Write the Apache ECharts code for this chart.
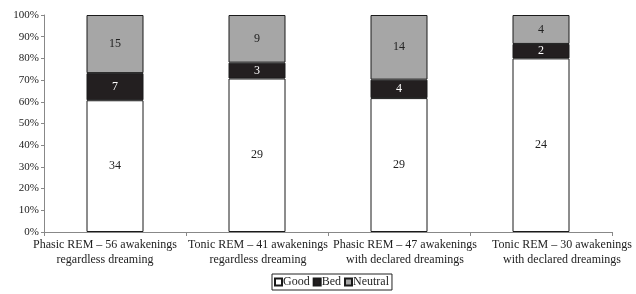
<!DOCTYPE html>
<html><head><meta charset="utf-8">
<script src="https://cdn.jsdelivr.net/npm/echarts@6/dist/echarts.min.js"></script>
<style>html,body{margin:0;padding:0;background:#fff}#c{width:636px;height:294px}</style>
</head><body><div id="c"></div>
<script>
var categories = ['Phasic REM – 56 awakenings\nregardless dreaming','Tonic REM – 41 awakenings\nregardless dreaming','Phasic REM – 47 awakenings\nwith declared dreamings','Tonic REM – 30 awakenings\nwith declared dreamings'];
var good = [34, 29, 29, 24];
var bed = [7, 3, 4, 2];
var neutral = [15, 9, 14, 4];
var yTicks = [0,10,20,30,40,50,60,70,80,90,100];

var totals = good.map(function(v,i){return v+bed[i]+neutral[i];});
function pct(arr){return arr.map(function(v,i){return {value: v/totals[i]*100, count: v};});}
var FONT = 'Liberation Serif';
function mk(name, arr, color, lc){
  return {name:name, type:'bar', stack:'s', barWidth:57, data:pct(arr),
    itemStyle:{color:color, borderColor:'#1a1a1a', borderWidth:1},
    label:{show:true, position:'inside', color:lc, fontFamily:FONT, fontSize:12,
      formatter:function(p){return p.data.count;}}};
}
var shiftPad = [[0,20,0,0],[0,0,0,2],[0,0,0,12],[0,0,0,42]];
var rich = {};
shiftPad.forEach(function(p,i){ rich['l'+i] = {padding:p, fontFamily:FONT, fontSize:12, color:'#222', lineHeight:15}; });
var chart = echarts.init(document.getElementById('c'));
chart.setOption({
  animation:false,
  textStyle:{fontFamily:FONT},
  grid:{left:44, right:24, top:15, bottom:62},
  legend:{top:274, left:272, itemWidth:7, itemHeight:7, itemGap:3,
    borderColor:'#222', borderWidth:1, padding:[2,3,2,2], borderRadius:0,
    textStyle:{fontFamily:FONT, fontSize:12, color:'#222', padding:[0,0,0,-4]},
    data:[{name:'Good',icon:'rect'},{name:'Bed',icon:'rect'},{name:'Neutral',icon:'rect'}]},
  xAxis:{type:'category', data:categories,
    axisLine:{lineStyle:{color:'#888'}}, axisTick:{show:true, length:4, lineStyle:{color:'#888'}},
    axisLabel:{color:'#222', fontFamily:FONT, fontSize:12, interval:0, lineHeight:15, margin:5,
      formatter:function(v, i){ return v.split('\n').map(function(s){return '{l'+i+'|'+s+'}';}).join('\n'); },
      rich:rich}},
  yAxis:{type:'value', min:0, max:100, interval:10,
    axisLine:{show:true, lineStyle:{color:'#888'}}, axisTick:{show:true, length:3, lineStyle:{color:'#888'}},
    splitLine:{show:false},
    axisLabel:{color:'#222', fontFamily:FONT, fontSize:11, margin:5, formatter:function(v){return v+'%';}}},
  series:[mk('Good', good, '#ffffff', '#222'), mk('Bed', bed, '#231f20', '#fff'), mk('Neutral', neutral, '#a6a6a6', '#222')]
});
</script></body></html>
